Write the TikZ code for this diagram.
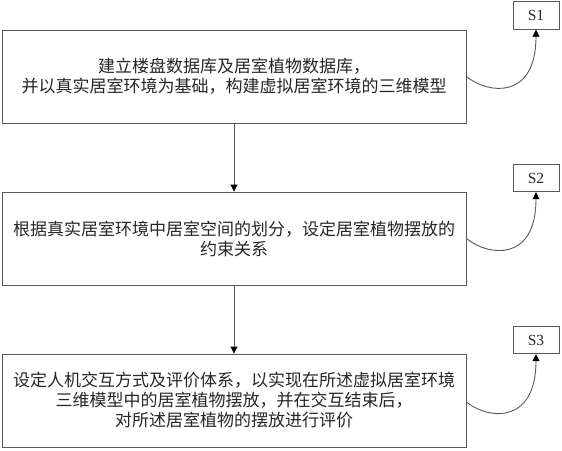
\documentclass[tikz,border=0pt]{standalone}
\usepackage{fontspec}
\setmainfont{Liberation Serif}
\newfontfamily\cjk{Noto Sans CJK SC}
\usetikzlibrary{arrows.meta}
\begin{document}
\begin{tikzpicture}[x=1pt,y=1pt,
  line/.style={draw=black!65,line width=0.9pt},
  stepbox/.style={line,rectangle,minimum width=464pt,minimum height=93pt,inner sep=0pt,align=center,
    font=\cjk\fontsize{17}{20}\selectfont,text=black!85},
  labbox/.style={line,rectangle,minimum width=46pt,minimum height=27.5pt,inner sep=0pt,
    font=\fontsize{15.5}{17}\selectfont,text=black!85},
  arr/.style={line,-{Triangle[width=7pt,length=7pt,fill=black,color=black]}}]
\useasboundingbox (0,0) rectangle (562,-450);
\node[stepbox] (b1) at (234,-76.5) {建立楼盘数据库及居室植物数据库，\\并以真实居室环境为基础，构建虚拟居室环境的三维模型};
\node[stepbox] (b2) at (234,-238.5) {根据真实居室环境中居室空间的划分，设定居室植物摆放的\\约束关系};
\node[stepbox] (b3) at (234,-400.5) {设定人机交互方式及评价体系，以实现在所述虚拟居室环境\\三维模型中的居室植物摆放，并在交互结束后，\\对所述居室植物的摆放进行评价};
\node[labbox] (s1) at (536,-15.5) {S1};
\node[labbox] (s2) at (536,-178) {S2};
\node[labbox] (s3) at (536,-340) {S3};
\draw[arr] (b1.south) -- (b2.north);
\draw[arr] (b2.south) -- (b3.north);
\draw[arr] (b1.east) .. controls +(22,-18) and +(0,-70) .. (s1.south);
\draw[arr] (b2.east) .. controls +(22,-18) and +(0,-70) .. (s2.south);
\draw[arr] ([yshift=-1.5pt]b3.east) .. controls +(22,-18) and +(0,-70) .. (s3.south);
\end{tikzpicture}
\end{document}
